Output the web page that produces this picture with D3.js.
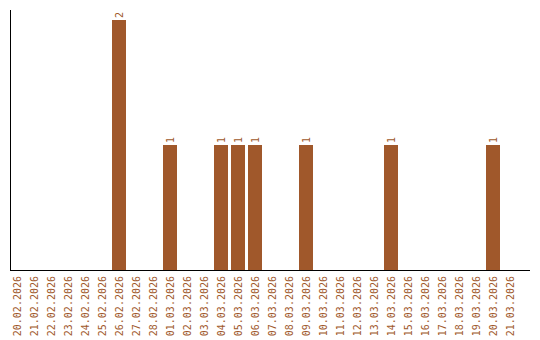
<!DOCTYPE html>
<html>
<head>
<meta charset="utf-8">
<script src="https://cdn.jsdelivr.net/npm/d3@7"></script>
<style>
  body { margin: 0; background: #fff; }
  svg { display: block; }
</style>
</head>
<body>
<div id="chart"></div>
<script>
const dates = ["20.02.2026", "21.02.2026", "22.02.2026", "23.02.2026", "24.02.2026",
  "25.02.2026", "26.02.2026", "27.02.2026", "28.02.2026", "01.03.2026", "02.03.2026",
  "03.03.2026", "04.03.2026", "05.03.2026", "06.03.2026", "07.03.2026", "08.03.2026",
  "09.03.2026", "10.03.2026", "11.03.2026", "12.03.2026", "13.03.2026", "14.03.2026",
  "15.03.2026", "16.03.2026", "17.03.2026", "18.03.2026", "19.03.2026", "20.03.2026",
  "21.03.2026"];
const counts = [0, 0, 0, 0, 0, 0, 2, 0, 0, 1, 0, 0, 1, 1, 1, 0, 0, 1, 0, 0, 0, 0, 1,
  0, 0, 0, 0, 0, 1, 0];

const width = 540, height = 340;
const plotLeft = 10, plotTop = 10, plotBottom = 270, plotRight = 530;
const color = "#a0582b";

const svg = d3.select("#chart").append("svg")
  .attr("width", width)
  .attr("height", height);

// 17px per day, 14px bar
const x = d3.scaleBand()
  .domain(dates)
  .range([plotLeft, plotLeft + 17 * dates.length - 3])
  .paddingInner(3 / 17)
  .paddingOuter(0);

const y = d3.scaleLinear()
  .domain([0, d3.max(counts)])
  .range([plotBottom, plotTop + 10]);

const rows = dates.map((d, i) => ({ date: d, count: counts[i] }));

svg.selectAll("rect.bar")
  .data(rows.filter(d => d.count > 0))
  .enter()
  .append("rect")
  .attr("class", "bar")
  .attr("x", d => x(d.date))
  .attr("y", d => y(d.count))
  .attr("width", x.bandwidth())
  .attr("height", d => plotBottom - y(d.count))
  .attr("fill", color);

// value labels, rotated
svg.selectAll("text.val")
  .data(rows.filter(d => d.count > 0))
  .enter()
  .append("text")
  .attr("class", "val")
  .attr("transform", d => "translate(" + (x(d.date) + x.bandwidth() / 2) + "," + (y(d.count) - 2) + ") rotate(-90)")
  .attr("dy", "0.35em")
  .style("font-family", "DejaVu Sans Mono")
  .style("font-size", "10px")
  .attr("fill", color)
  .text(d => d.count);

// x labels
const xAxis = svg.append("g")
  .attr("transform", "translate(0," + plotBottom + ")")
  .call(d3.axisBottom(x).tickSize(0).tickPadding(0));
xAxis.select(".domain").remove();
xAxis.selectAll("text")
  .attr("transform", "translate(0,6) rotate(-90)")
  .attr("x", 0)
  .attr("y", 0)
  .attr("dy", "0.35em")
  .style("text-anchor", "end")
  .style("font-family", "DejaVu Sans Mono")
  .style("font-size", "10px")
  .attr("fill", color);

// axis lines
svg.append("line")
  .attr("x1", plotLeft + 0.5).attr("x2", plotLeft + 0.5)
  .attr("y1", plotTop).attr("y2", plotBottom)
  .attr("stroke", "#000");
svg.append("line")
  .attr("x1", plotLeft).attr("x2", plotRight)
  .attr("y1", plotBottom + 0.5).attr("y2", plotBottom + 0.5)
  .attr("stroke", "#000");
</script>
</body>
</html>
